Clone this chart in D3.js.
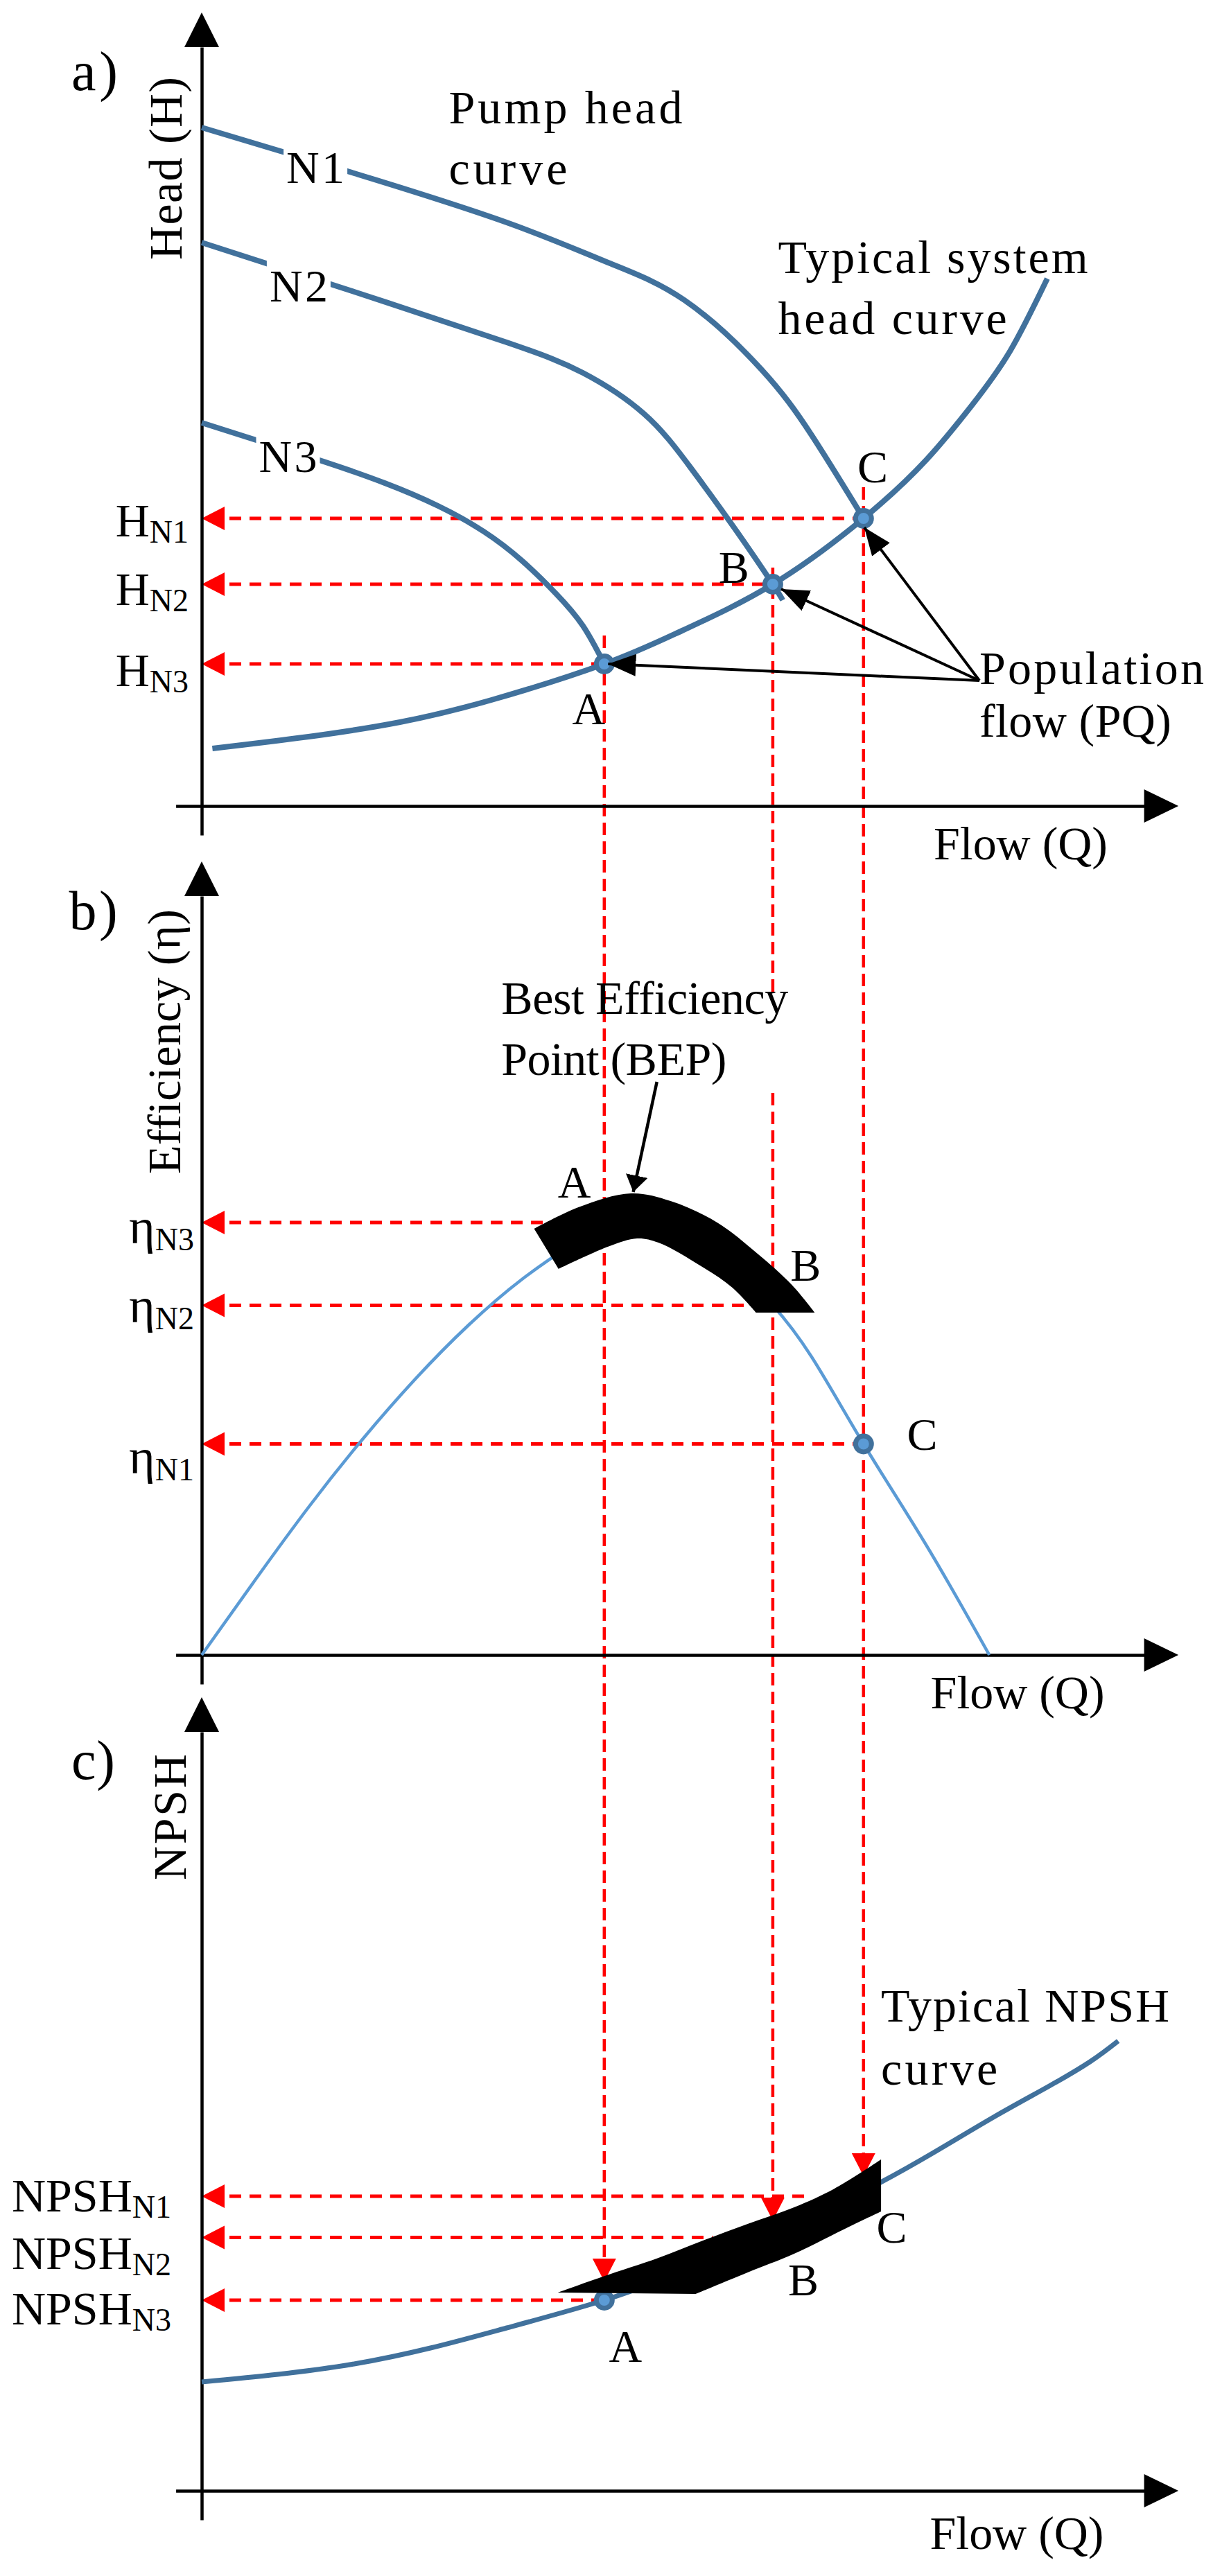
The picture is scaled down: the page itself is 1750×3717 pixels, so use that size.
<!DOCTYPE html>
<html>
<head>
<meta charset="utf-8">
<style>
  body { margin: 0; background: #fff; }
  text { font-family: "Liberation Serif", "Times New Roman", serif; fill: #000; }
</style>
</head>
<body>
<svg id="chart" width="1750" height="3717"></svg>
<script src="https://cdn.jsdelivr.net/npm/d3@7"></script>
<script>
// flow on x, head / efficiency / NPSH on y, all in relative units (0-100)

// operating points, shared by the three panels
const pointNames = ["A", "B", "C"]
const pointSpeed = ["N3", "N2", "N1"]
const pointFlow = [52.8, 74.9, 86.8]

// a) pump head curves and system curve
const pointHead = [20.5, 32.0, 41.5]
const headN1 = [[0, 97.9], [20, 91.3], [40, 84.2], [53.1, 78.5], [63.3, 73.0], [73.4, 63.0], [80, 53.5], [86.8, 41.5]]
const headN2 = [[0, 81.3], [20, 74.2], [40, 66.9], [50, 62.5], [58, 56.6], [64, 49.0], [70, 39.9], [74.9, 32.0], [76.2, 29.7]]
const headN3 = [[0, 55.3], [8, 52.5], [16, 49.7], [24, 46.6], [31, 43.3], [37, 39.6], [42, 35.4],
  [46.5, 30.6], [50, 26.0], [52.8, 20.5]]
const systemHead = [[1.4, 8.3], [14, 10.0], [26, 12.1], [38, 15.3], [52.8, 20.5], [63, 25.3], [74.9, 32.0],
  [86.8, 41.5], [95, 49.9], [101, 57.8], [106, 65.6], [110.9, 76.1]]

// b) efficiency curve and the best efficiency band
const pointEff = [62.4, 50.45, 30.45]
const efficiency = [[0, 0], [7, 10.8], [14, 21.3], [21, 31.0], [28, 39.8], [35, 47.6], [42, 54.2], [48, 58.9],
  [52.8, 62.4], [57.5, 63.6], [62, 62.6], [67, 58.9], [71, 54.8], [74.9, 50.45], [80, 43.0], [86.8, 30.45],
  [95, 15.9], [103.3, 0]]
const bepTop = [[43.6, 61.5], [49.4, 64.6], [56.3, 66.6], [61.5, 65.5], [67.6, 62.4], [72.9, 57.9], [77.4, 53.4], [80.4, 49.4]]
const bepBottom = [[72.7, 49.4], [69.6, 53.0], [65.5, 56.1], [59.9, 59.5], [57.1, 60.1], [53.5, 59.0], [46.8, 55.7]]

// c) NPSH curve and band
const pointNpsh = [27.5, 36.55, 42.5]
const npshLineEnd = [52.8, 67.0, 79.5]
const npsh = [[0, 15.7], [10, 16.8], [20, 18.3], [30, 20.6], [40, 23.5], [52.8, 27.5], [63, 31.6], [74.9, 37.0],
  [86.8, 43.2], [96, 48.8], [104, 54.0], [111, 58.3], [116.5, 61.9], [120.2, 64.9]]
const npshTop = [[46.7, 28.6], [52.6, 30.9], [59.9, 33.6], [65.5, 36.0], [71.6, 38.5], [77.7, 40.9], [83.0, 43.6], [89.1, 47.8]]
const npshBottom = [[89.1, 40.3], [85.1, 38.2], [77.7, 34.2], [71.6, 31.5], [64.8, 28.4]]

// vertical guides: start above the point in a), arrow tip in c)
const guideStartHead = [24.6, 34.4, 46.0]
const guideTipNpsh = [30.2, 39.0, 45.4]

// "Population flow (PQ)" arrows in a)
const pqOrigin = [102.0, 18.1]
const pqTips = [[53.3, 20.5], [76.0, 31.3], [86.9, 40.2]]

const svg = d3.select("#chart")
const x = d3.scaleLinear().domain([0, 100]).range([291, 1391])
const yA = d3.scaleLinear().domain([0, 100]).range([1163, 163])
const yB = d3.scaleLinear().domain([0, 100]).range([2388, 1388])
const yC = d3.scaleLinear().domain([0, 100]).range([3594, 2594])

const darkBlue = "#41719c", lightBlue = "#5b9bd5", red = "#ff0000"
const serif = "'Liberation Serif', 'Times New Roman', serif"

const curve = y => d3.line().x(d => x(d[0])).y(d => y(d[1])).curve(d3.curveNatural)
const edge = y => d3.line().x(d => x(d[0])).y(d => y(d[1])).curve(d3.curveCatmullRom.alpha(0.5))

// markers
const defs = svg.append("defs")
defs.append("marker").attr("id", "head").attr("markerUnits", "userSpaceOnUse")
  .attr("markerWidth", 42).attr("markerHeight", 34).attr("refX", 40).attr("refY", 16).attr("orient", "auto")
  .append("path").attr("d", "M0,0 L40,16 L0,32 Z").attr("fill", "#000")
defs.append("marker").attr("id", "smallHead").attr("markerUnits", "userSpaceOnUse")
  .attr("markerWidth", 26).attr("markerHeight", 34).attr("refX", 24).attr("refY", 16).attr("orient", "auto")
  .append("path").attr("d", "M0,0 L24,16 L0,32 Z").attr("fill", "#000")

// ---- red guides ----
const guides = svg.append("g").attr("stroke", red).attr("fill", "none")

pointFlow.forEach((q, i) => {
  let segs = [[yA(guideStartHead[i]), yC(guideTipNpsh[i]) - 33]]
  if (i == 1) { // the B line is broken under the BEP text
    segs = [[yA(guideStartHead[i]), yB(94.8)], [yB(81.1), yC(guideTipNpsh[i]) - 33]]
  }
  segs.forEach(s => {
    guides.append("line").attr("x1", x(q)).attr("x2", x(q)).attr("y1", s[0]).attr("y2", s[1])
      .attr("stroke-width", 4.5).attr("stroke-dasharray", "18,9")
  })
  // down arrow into the NPSH band
  const tx = x(q), ty = yC(guideTipNpsh[i])
  svg.append("path").attr("d", `M${tx},${ty} L${tx - 17},${ty - 33} L${tx + 17},${ty - 33} Z`).attr("fill", red)
})

function hGuide(y, v, qEnd) {
  const x0 = x(0)
  guides.append("line").attr("x1", x0 + 40).attr("x2", x(qEnd)).attr("y1", y(v)).attr("y2", y(v))
    .attr("stroke-width", 5).attr("stroke-dasharray", "17,12")
  svg.append("path").attr("d", `M${x0},${y(v)} L${x0 + 33},${y(v) - 17} L${x0 + 33},${y(v) + 17} Z`).attr("fill", red)
}
pointFlow.forEach((q, i) => {
  hGuide(yA, pointHead[i], q)
  hGuide(yB, pointEff[i], q)
  hGuide(yC, pointNpsh[i], npshLineEnd[i])
})

// ---- axes ----
function drawAxes(y) {
  const g = svg.append("g")
  const xs = d3.scaleLinear().domain([-3.4, 123.6]).range([x(-3.4), x(123.6)])
  g.append("g").attr("transform", `translate(0,${y(0)})`)
    .call(d3.axisBottom(xs).tickValues([]).tickSizeOuter(0))
    .select(".domain").attr("stroke", "#000").attr("stroke-width", 4.5)
  const ys = d3.scaleLinear().domain([-4.2, 109.5]).range([y(-4.2), y(109.5)])
  g.append("g").attr("transform", `translate(${x(0)},0)`)
    .call(d3.axisLeft(ys).tickValues([]).tickSizeOuter(0))
    .select(".domain").attr("stroke", "#000").attr("stroke-width", 4.5)
  g.append("path").attr("d", `M${x(123.6)},${y(0) - 24} L${x(128.1)},${y(0)} L${x(123.6)},${y(0) + 24} Z`)
  g.append("path").attr("d", `M${x(0) - 25},${y(109.5)} L${x(0)},${y(114.5)} L${x(0) + 25},${y(109.5)} Z`)
}
drawAxes(yA)
drawAxes(yB)
drawAxes(yC)

// ---- curves ----
const curves = svg.append("g").attr("fill", "none").attr("stroke-linecap", "butt")
;[headN1, headN2, headN3, systemHead].forEach(c => {
  curves.append("path").attr("d", curve(yA)(c)).attr("stroke", darkBlue).attr("stroke-width", 8)
})
curves.append("path").attr("d", curve(yB)(efficiency)).attr("stroke", lightBlue).attr("stroke-width", 4.5)
curves.append("path").attr("d", curve(yC)(npsh)).attr("stroke", darkBlue).attr("stroke-width", 7)

// speed labels sitting in gaps of the head curves
const speedPos = { N1: [11.1, 89.9], N2: [8.9, 72.8], N3: [7.5, 48.2] }
Object.keys(speedPos).forEach(k => {
  const p = speedPos[k]
  const t = svg.append("text").attr("x", x(p[0])).attr("y", yA(p[1])).attr("font-size", 66)
    .attr("font-family", serif).attr("textLength", 84).attr("lengthAdjust", "spacing").text(k)
  const b = t.node().getBBox()
  svg.insert("rect", () => t.node()).attr("x", b.x - 4).attr("y", b.y).attr("width", b.width + 8)
    .attr("height", b.height).attr("fill", "#fff")
})

// ---- dots ----
function dot(px, py) {
  svg.append("circle").attr("cx", px).attr("cy", py).attr("r", 11.5)
    .attr("fill", lightBlue).attr("stroke", darkBlue).attr("stroke-width", 7)
}
pointFlow.forEach((q, i) => dot(x(q), yA(pointHead[i])))
dot(x(pointFlow[2]), yB(pointEff[2]))
dot(x(pointFlow[0]), yC(pointNpsh[0]))

// ---- black bands ----
function band(y, top, bottom) {
  const gen = edge(y)
  return gen(top) + "L" + gen(bottom).slice(1) + "Z"
}
svg.append("path").attr("d", band(yB, bepTop, bepBottom)).attr("fill", "#000")
svg.append("path").attr("d", band(yC, npshTop, npshBottom)).attr("fill", "#000")

// ---- black arrows ----
pqTips.forEach(t => {
  svg.append("line").attr("x1", x(pqOrigin[0])).attr("y1", yA(pqOrigin[1]))
    .attr("x2", x(t[0])).attr("y2", yA(t[1]))
    .attr("stroke", "#000").attr("stroke-width", 4).attr("marker-end", "url(#head)")
})
svg.append("line").attr("x1", x(59.7)).attr("y1", yB(82.7)).attr("x2", x(56.6)).attr("y2", yB(66.8))
  .attr("stroke", "#000").attr("stroke-width", 4.5).attr("marker-end", "url(#smallHead)")

// ---- texts ----
function note(y, q, v, str, len, size) {
  const t = svg.append("text").attr("x", x(q)).attr("y", y(v)).attr("font-family", serif)
    .attr("font-size", size || 68).text(str)
  if (len) t.attr("textLength", len).attr("lengthAdjust", "spacing")
  return t
}
function axisTitle(y, q, v, str, len) {
  svg.append("text").attr("transform", `translate(${x(q)},${y(v)}) rotate(-90)`)
    .attr("text-anchor", "middle").attr("font-family", serif).attr("font-size", 68)
    .attr("textLength", len).attr("lengthAdjust", "spacing").text(str)
}
function tickLabel(y, q, v, main, sub, dy, size) {
  const t = svg.append("text").attr("x", x(q)).attr("y", y(v)).attr("text-anchor", "end")
    .attr("font-family", serif).attr("font-size", size)
  t.append("tspan").text(main)
  t.append("tspan").attr("font-size", 46).attr("dy", dy).text(sub)
}

// panel a
note(yA, -17.1, 103.3, "a)", 67, 80)
axisTitle(yA, -2.6, 92.0, "Head (H)", 264)
note(yA, 32.4, 98.5, "Pump head", 337)
note(yA, 32.4, 89.7, "curve", 171)
note(yA, 75.6, 76.9, "Typical system", 447)
note(yA, 75.6, 68.1, "head curve", 330)
note(yA, 102.0, 17.6, "Population", 324)
note(yA, 102.0, 10.0, "flow (PQ)", 277)
note(yA, 96.0, -7.7, "Flow (Q)", 251)
const letterA = [[48.6, 11.8], [67.8, 32.2], [86.0, 46.7]]
letterA.forEach((p, i) => note(yA, p[0], p[1], pointNames[i], null, 66))
const headLabelV = [17.3, 29.0, 38.9]
pointSpeed.forEach((s, i) => tickLabel(yA, -1.73, headLabelV[i], "H", s, 9, 68))

// panel b
note(yB, -17.4, 104.7, "b)", 70, 80)
axisTitle(yB, -2.8, 88.5, "Efficiency (η)", 382)
note(yB, 39.3, 92.5, "Best Efficiency", 414)
note(yB, 39.3, 83.7, "Point (BEP)", 325)
note(yB, 95.6, -7.7, "Flow (Q)", 251)
const letterB = [[46.7, 66.0], [77.2, 54.0], [92.5, 29.6]]
letterB.forEach((p, i) => note(yB, p[0], p[1], pointNames[i], null, 66))
const effLabelV = [59.4, 48.0, 26.2]
pointSpeed.forEach((s, i) => tickLabel(yB, -1.0, effLabelV[i], "η", s, 10, 72))

// panel c
note(yC, -17.1, 102.7, "c)", 63, 80)
axisTitle(yC, -2.1, 97.2, "NPSH", 182)
note(yC, 89.1, 67.7, "Typical NPSH", 416)
note(yC, 89.1, 58.6, "curve", 168)
note(yC, 95.5, -8.4, "Flow (Q)", 251)
const letterC = [[53.4, 18.6], [76.9, 28.2], [88.5, 35.8]]
letterC.forEach((p, i) => note(yC, p[0], p[1], pointNames[i], null, 66))
const npshLabelV = [24.0, 32.0, 40.3]
pointSpeed.forEach((s, i) => tickLabel(yC, -4.0, npshLabelV[i], "NPSH", s, 9, 68))
</script>
</body>
</html>
